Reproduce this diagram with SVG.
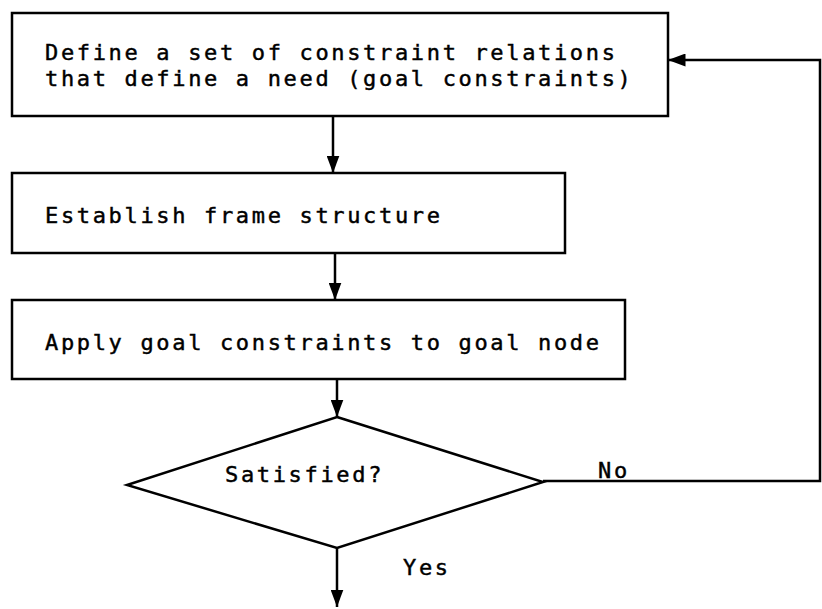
<svg xmlns="http://www.w3.org/2000/svg" width="822" height="609" viewBox="0 0 822 609">
  <style>
    .box { fill: #fff; stroke: #000; stroke-width: 2.5; }
    .lbl { font-family: "DejaVu Sans Mono", "Liberation Mono", monospace; font-size: 22px; letter-spacing: 2.66px; fill: #000; stroke: #000; stroke-width: 0.45; }
    .edge { fill: none; stroke: #000; stroke-width: 2.5; }
  </style>
  <defs>
    <!-- long, narrow filled arrowhead -->
    <marker id="arrow" viewBox="0 0 10 10" refX="10" refY="5" markerWidth="7" markerHeight="5.2" markerUnits="strokeWidth" orient="auto" preserveAspectRatio="none">
      <path d="M0,0 L10,5 L0,10 Z" fill="#000"/>
    </marker>
  </defs>
  <rect width="822" height="609" fill="#fff"/>

  <g id="define-goal">
    <rect class="box" x="12" y="13" width="656" height="103"/>
    <text class="lbl" x="45" y="60">Define a set of constraint relations</text>
    <text class="lbl" x="45" y="86">that define a need (goal constraints)</text>
  </g>

  <g id="frame-structure">
    <rect class="box" x="12" y="173" width="553" height="80"/>
    <text class="lbl" x="45" y="223">Establish frame structure</text>
  </g>

  <g id="apply-constraints">
    <rect class="box" x="12" y="300" width="613" height="79"/>
    <text class="lbl" x="45" y="350">Apply goal constraints to goal node</text>
  </g>

  <g id="satisfied">
    <polygon class="box" points="337,417 543,482 337,548 127,485"/>
    <text class="lbl" x="225" y="482">Satisfied?</text>
  </g>

  <g id="connectors">
    <line class="edge" x1="333" y1="116" x2="333" y2="173" marker-end="url(#arrow)"/>
    <line class="edge" x1="335" y1="253" x2="335" y2="300" marker-end="url(#arrow)"/>
    <line class="edge" x1="337" y1="379" x2="337" y2="417" marker-end="url(#arrow)"/>
    <line class="edge" x1="337" y1="548" x2="337" y2="607" marker-end="url(#arrow)"/>
    <polyline class="edge" points="543,481 820,481 820,60 668,60" marker-end="url(#arrow)"/>
    <text class="lbl" x="403" y="575">Yes</text>
    <text class="lbl" x="598" y="478">No</text>
  </g>
</svg>
